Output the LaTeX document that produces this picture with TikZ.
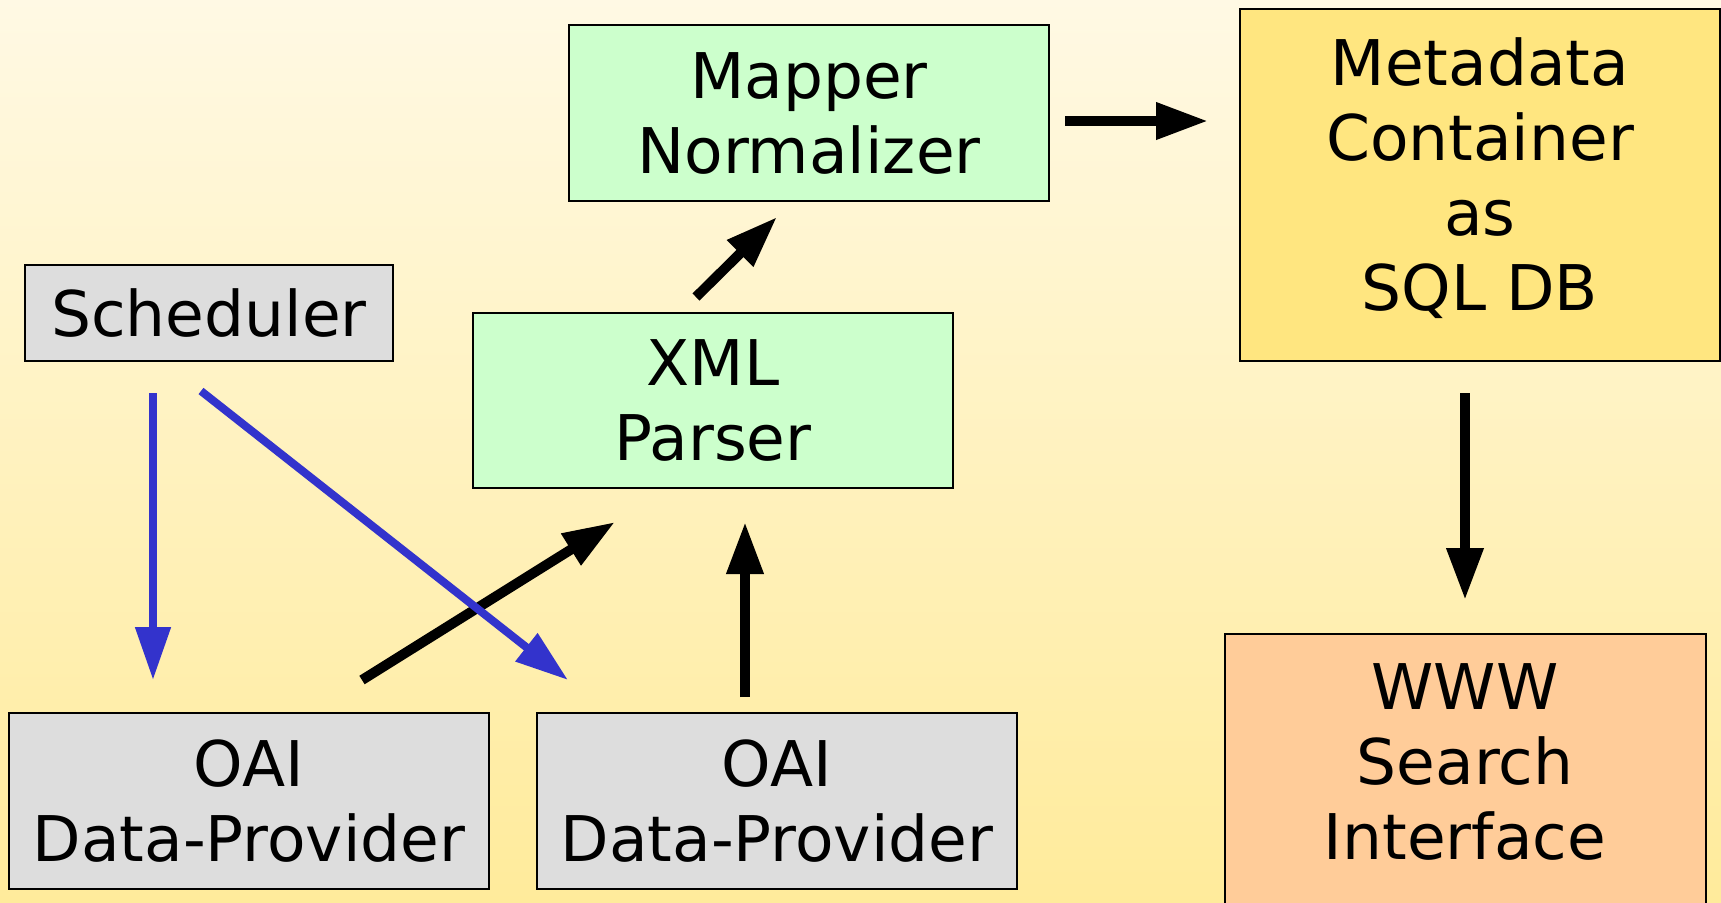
\documentclass[tikz,border=0pt]{standalone}
\usepackage{fontspec}
\setmainfont{DejaVu Sans}
\usetikzlibrary{arrows.meta}
\definecolor{bgtop}{RGB}{255,249,228}
\definecolor{bgbot}{RGB}{255,235,155}
\definecolor{boxgray}{RGB}{221,221,221}
\definecolor{boxgreen}{RGB}{204,255,204}
\definecolor{boxyellow}{RGB}{255,230,128}
\definecolor{boxorange}{RGB}{255,204,153}
\definecolor{arrblue}{RGB}{51,51,204}
\tikzset{
  box/.style={draw=black, line width=1pt, inner sep=0pt, align=center,
    font=\fontsize{31.5}{37.5}\selectfont},
  boxtext/.style={inner sep=0pt, align=center,
    font=\fontsize{31.5}{37.5}\selectfont},
  blackarrow/.style={draw=black, line width=5pt,
    -{Triangle[length=26pt,width=17.5pt]}},
  bluearrow/.style={draw=arrblue, line width=4pt,
    -{Triangle[length=26.5pt,width=17pt]}}
}
\begin{document}
\begin{tikzpicture}[x=0.5pt,y=-0.5pt]
\useasboundingbox (0,0) rectangle (1721,902);
\shade[top color=bgtop, bottom color=bgbot] (0,0) rectangle (1721,902);

\node[box, fill=boxgreen, minimum width=240pt, minimum height=88pt] (mapper) at (809,113) {Mapper\\Normalizer};
\node[box, fill=boxgray, minimum width=184pt, minimum height=48pt] (sched) at (209,313) {Scheduler};
\node[box, fill=boxgreen, minimum width=240pt, minimum height=87.5pt] (parser) at (713,400.5) {XML\\Parser};
\node[box, fill=boxyellow, minimum width=240pt, minimum height=176pt] (meta) at (1480,185) {};
\node[boxtext] (metatext) at (1480,178) {Metadata\\Container\\as\\SQL DB};
\node[box, fill=boxgray, minimum width=240pt, minimum height=88pt] (oai1) at (249,801) {OAI\\Data-Provider};
\node[box, fill=boxgray, minimum width=240pt, minimum height=88pt] (oai2) at (777,801) {OAI\\Data-Provider};
\node[box, fill=boxorange, minimum width=240.5pt, minimum height=160pt, anchor=north] (www) at (1465,633) {};
\node[boxtext] (wwwtext) at (1465,762) {WWW\\Search\\Interface};

% connector end points
\coordinate (m1) at (1065,121);
\coordinate (m2) at (1208,121);
\coordinate (p1) at (696,297);
\coordinate (p2) at (777,217);
\coordinate (d1) at (1465,393);
\coordinate (d2) at (1465,600);
\coordinate (s1) at (153,393);
\coordinate (s2) at (153,680);
\coordinate (t1) at (201,391);
\coordinate (t2) at (568,680);
\coordinate (o1) at (362,680);
\coordinate (o2) at (615,522);
\coordinate (q1) at (745,697);
\coordinate (q2) at (745,522);

\draw[bluearrow] (s1) -- (s2);
\draw[blackarrow] (o1) -- (o2);
\draw[bluearrow] (t1) -- (t2);
\draw[blackarrow] (q1) -- (q2);
\draw[blackarrow] (p1) -- (p2);
\draw[blackarrow] (m1) -- (m2);
\draw[blackarrow] (d1) -- (d2);
\end{tikzpicture}
\end{document}
